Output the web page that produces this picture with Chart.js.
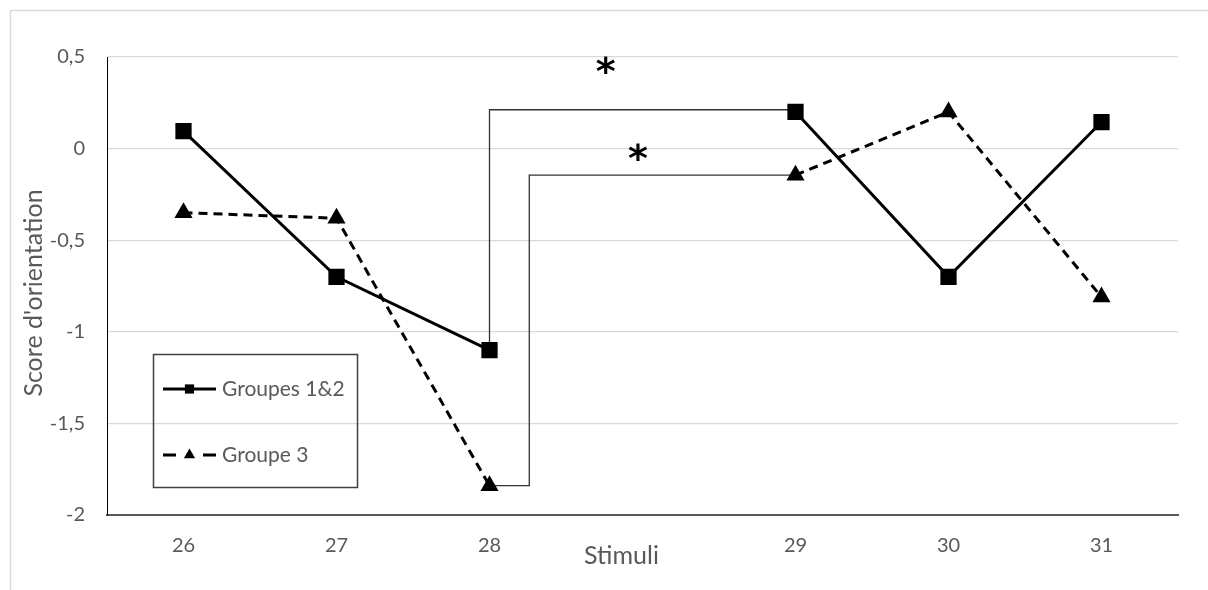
<!DOCTYPE html>
<html>
<head>
<meta charset="utf-8">
<script src="https://cdn.jsdelivr.net/npm/chart.js@4.4.0/dist/chart.umd.min.js"></script>
<style>
  html, body { margin: 0; padding: 0; background: #fff; }
</style>
</head>
<body>
<canvas id="chart" width="1208" height="590"></canvas>
<script>
// categories (empty slot between 28 and 29)
const categories = ["26", "27", "28", "", "29", "30", "31"];
const groupes12 = [0.095, -0.70, -1.10, null, 0.20, -0.70, 0.145];
const groupe3 = [-0.35, -0.38, -1.84, null, -0.145, 0.20, -0.81];
const seriesNames = ["Groupes 1&2", "Groupe 3"];
const yMin = -2;
const yMax = 0.5;
const yStep = 0.5;

const textColor = "#595959";
const fontFamily = "Lato, 'Open Sans', sans-serif";

// white background + the light frame of the original picture
const framePlugin = {
  id: "frame",
  beforeDraw(chart) {
    const c = chart.ctx;
    c.save();
    c.fillStyle = "#fff";
    c.fillRect(0, 0, chart.width, chart.height);
    c.strokeStyle = "#d9d9d9";
    c.lineWidth = 1.5;
    c.strokeRect(10.5, 10.5, chart.width + 20, chart.height + 20);
    c.restore();
  }
};

// significance brackets between 28 and 29, anchored on the data
const bracketPlugin = {
  id: "brackets",
  beforeDatasetsDraw(chart) {
    const x = chart.scales.x, y = chart.scales.y, c = chart.ctx;
    const i28 = 2, i29 = 4;
    c.save();
    c.strokeStyle = "#333";
    c.lineWidth = 1.3;
    // bracket for Groupes 1&2
    c.beginPath();
    c.moveTo(x.getPixelForValue(i28), y.getPixelForValue(groupes12[i28]));
    c.lineTo(x.getPixelForValue(i28), y.getPixelForValue(groupes12[i29] + 0.012));
    c.lineTo(x.getPixelForValue(i29), y.getPixelForValue(groupes12[i29] + 0.012));
    c.stroke();
    // bracket for Groupe 3
    const xs = x.getPixelForValue(i28 + 0.26);
    c.beginPath();
    c.moveTo(x.getPixelForValue(i28), y.getPixelForValue(groupe3[i28]));
    c.lineTo(xs, y.getPixelForValue(groupe3[i28]));
    c.lineTo(xs, y.getPixelForValue(groupe3[i29]));
    c.lineTo(x.getPixelForValue(i29), y.getPixelForValue(groupe3[i29]));
    c.stroke();
    c.restore();
  },
  afterDatasetsDraw(chart) {
    const x = chart.scales.x, y = chart.scales.y, c = chart.ctx;
    const stars = [[2.76, 0.455], [2.97, -0.02]];
    c.save();
    c.fillStyle = "#000";
    c.font = "bold 38px 'DejaVu Sans'";
    c.textAlign = "center";
    c.textBaseline = "alphabetic";
    stars.forEach(function (s) {
      const m = c.measureText("*");
      const mid = (m.actualBoundingBoxAscent - m.actualBoundingBoxDescent) / 2;
      c.fillText("*", x.getPixelForValue(s[0]), y.getPixelForValue(s[1]) + mid);
    });
    c.restore();
  }
};

// legend box inside the plot + axis titles
const legendPlugin = {
  id: "boxLegend",
  afterDraw(chart) {
    const c = chart.ctx;
    const area = chart.chartArea;
    c.save();
    c.strokeStyle = "#404040";
    c.lineWidth = 1.5;
    c.strokeRect(153.5, 354.5, 204, 133);

    const rows = [389, 455];
    chart.data.datasets.forEach(function (ds, i) {
      const yy = rows[i];
      c.strokeStyle = "#000";
      c.lineWidth = 3;
      c.beginPath();
      if (ds.borderDash) {
        c.moveTo(163, yy); c.lineTo(176, yy);
        c.moveTo(203, yy); c.lineTo(216, yy);
      } else {
        c.moveTo(163, yy); c.lineTo(216, yy);
      }
      c.stroke();
      c.fillStyle = "#000";
      Chart.helpers.drawPoint(c, { pointStyle: ds.pointStyle, radius: 6.5, borderWidth: 0 }, 189.5, yy);
      c.fillStyle = textColor;
      c.font = "21px " + fontFamily;
      c.textAlign = "left";
      c.textBaseline = "middle";
      c.fillText(ds.label, 222, yy);
    });

    // axis titles
    c.fillStyle = textColor;
    c.font = "25px " + fontFamily;
    c.textAlign = "center";
    c.textBaseline = "middle";
    c.fillText("Stimuli", (area.left + area.right) / 2 - 21, 556);
    c.translate(34, (area.top + area.bottom) / 2 + 7);
    c.rotate(-Math.PI / 2);
    c.fillText("Score d'orientation", 0, 0);
    c.restore();
  }
};

const ctx = document.getElementById("chart");
new Chart(ctx, {
  type: "line",
  data: {
    labels: categories,
    datasets: [
      {
        label: seriesNames[0],
        data: groupes12,
        borderColor: "#000",
        borderWidth: 3,
        pointStyle: "rect",
        pointRadius: 11.5,
        pointHoverRadius: 11.5,
        pointBackgroundColor: "#000",
        pointBorderWidth: 0,
        spanGaps: false,
        tension: 0
      },
      {
        label: seriesNames[1],
        data: groupe3,
        borderColor: "#000",
        borderWidth: 3,
        borderDash: [9, 6],
        pointStyle: "triangle",
        pointRadius: 10.5,
        pointHoverRadius: 10.5,
        pointBackgroundColor: "#000",
        pointBorderWidth: 0,
        spanGaps: false,
        tension: 0
      }
    ]
  },
  options: {
    responsive: false,
    animation: false,
    devicePixelRatio: 1,
    layout: { padding: { left: 0, top: 57, right: 30, bottom: 0 } },
    plugins: {
      legend: { display: false },
      tooltip: { enabled: false }
    },
    scales: {
      x: {
        offset: true,
        grid: { display: false, drawTicks: false },
        border: { display: true, color: "#595959", width: 2 },
        ticks: {
          color: textColor,
          padding: 19,
          font: { family: fontFamily, size: 20 }
        },
        afterFit(scale) { scale.height = 75; }
      },
      y: {
        min: yMin,
        max: yMax,
        grid: {
          drawTicks: false,
          color: function (c) { return c.tick && c.tick.value === yMin ? "rgba(0,0,0,0)" : "#d9d9d9"; },
          lineWidth: 1.3
        },
        border: { display: true, color: "#000", width: 1 },
        ticks: {
          stepSize: yStep,
          color: textColor,
          padding: 22,
          font: { family: fontFamily, size: 20 },
          callback: function (v) { return String(v).replace(".", ","); }
        },
        afterFit(scale) { scale.width = 107; }
      }
    }
  },
  plugins: [framePlugin, bracketPlugin, legendPlugin]
});
</script>
</body>
</html>
